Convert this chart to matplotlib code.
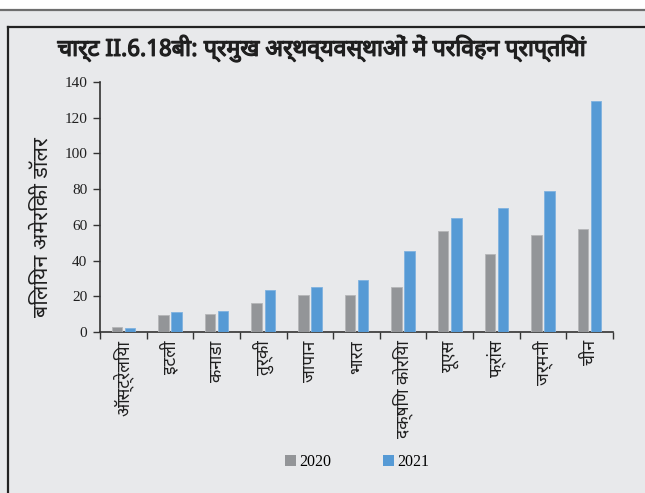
import matplotlib
matplotlib.use("Agg")
import matplotlib.pyplot as plt
import numpy as np
from matplotlib import font_manager as fm
from matplotlib import patheffects as pe
from matplotlib.ft2font import FT2Font
from matplotlib.patches import Rectangle
from matplotlib.lines import Line2D

# Data
countries = ["ऑस्ट्रेलिया", "इटली", "कनाडा", "तुर्की", "जापान", "भारत",
             "दक्षिण कोरिया", "यूएस", "फ्रांस", "जर्मनी", "चीन"]
values_2020 = [3.0, 9.5, 9.9, 16.1, 20.6, 20.6, 25.0, 56.6, 43.5, 54.2, 57.5]
values_2021 = [2.4, 11.0, 11.6, 23.7, 25.0, 29.1, 45.4, 63.7, 69.7, 79.2, 129.2]
series_labels = ["2020", "2021"]
title_text = "चार्ट II.6.18बी: प्रमुख अर्थव्यवस्थाओं में परिवहन प्राप्तियां"
ylabel_text = "बिलियन अमेरिकी डॉलर"
yticks = [0, 20, 40, 60, 80, 100, 120, 140]


def find_family(codepoint):
    found = []
    for f in fm.fontManager.ttflist:
        try:
            if codepoint in FT2Font(f.fname).get_charmap():
                found.append(f.name)
        except Exception:
            continue
    preferred = ["Noto Sans Devanagari", "Lohit Devanagari", "Mukta", "Hind",
                 "FreeSans", "Gargi", "Kalimati"]
    for p in preferred:
        if p in found:
            return p
    return found[0] if found else None


deva = find_family(0x0915)
sans_fams = ([deva] if deva else []) + ["DejaVu Sans"]
serif_fams = ["Liberation Serif", "DejaVu Serif"]

BG = "#E8E9EB"
GRAY = "#939598"
BLUE = "#569AD5"
INK = "#1f1f1f"

fig = plt.figure(figsize=(6.45, 4.93), dpi=100)
fig.patch.set_facecolor(BG)
W, H = 645, 493

# top white strip with rule
fig.patches.append(Rectangle((0, 1 - 9 / H), 1, 9 / H, transform=fig.transFigure,
                             facecolor="white", edgecolor="none", zorder=0))
fig.lines.append(Line2D([0, 1], [1 - 9.5 / H, 1 - 9.5 / H], transform=fig.transFigure,
                        color="#6e6e6e", lw=1.6))
# inner frame
fig.lines.append(Line2D([7.5 / W, 7.5 / W], [0, 1 - 27 / H], transform=fig.transFigure,
                        color="#222222", lw=1.6))
fig.lines.append(Line2D([7.5 / W, 1], [1 - 27 / H, 1 - 27 / H], transform=fig.transFigure,
                        color="#222222", lw=1.6))

ax = fig.add_axes([100 / W, 1 - 332 / H, 513 / W, 250 / H])
ax.set_facecolor(BG)

x = np.arange(len(countries))
bw = 0.225
off = 0.14
ax.bar(x - off, values_2020, bw, color=GRAY, edgecolor="#b5b6b8", linewidth=0.6,
       label=series_labels[0], zorder=3)
ax.bar(x + off, values_2021, bw, color=BLUE, edgecolor="#7fb2e0", linewidth=0.6,
       label=series_labels[1], zorder=3)

ax.set_xlim(-0.5, len(countries) - 0.5)
ax.set_ylim(0, 140)
ax.set_yticks(yticks)
ax.set_yticklabels([str(v) for v in yticks], family=serif_fams, fontsize=11, color=INK)

ax.set_xticks(np.arange(len(countries) + 1) - 0.5, minor=False)
ax.set_xticklabels([])
ax.set_xticks(x, minor=True)
xlabels = ax.set_xticklabels(countries, minor=True, rotation=90, family=sans_fams,
                             fontsize=12, color=INK, va="top")
ax.tick_params(axis="x", which="minor", length=0, pad=6)
ax.tick_params(axis="x", which="major", length=5, width=1, color="#333333", direction="out")
ax.tick_params(axis="y", length=5, width=1, color="#333333", direction="out", pad=4)

for s in ["top", "right"]:
    ax.spines[s].set_visible(False)
for s in ["left", "bottom"]:
    ax.spines[s].set_color("#333333")
    ax.spines[s].set_linewidth(1.2)

ylab = ax.set_ylabel(ylabel_text, family=sans_fams, fontsize=14, color=INK)
ax.yaxis.set_label_coords(-47 / 513, 0.418)

title = fig.text(0.5, 1 - 48 / H, title_text, ha="center", va="center", family=sans_fams,
                 fontsize=17, fontweight="bold", color=INK)
title.set_path_effects([pe.withStroke(linewidth=0.9, foreground=INK)])

handles = [Rectangle((0, 0), 1, 1, facecolor=GRAY, edgecolor="none"),
           Rectangle((0, 0), 1, 1, facecolor=BLUE, edgecolor="none")]
fig.legend(handles, series_labels, loc="center", bbox_to_anchor=(357 / W, 1 - 462 / H),
           ncol=2, frameon=False, handlelength=0.7, handleheight=0.7,
           handletextpad=0.2, columnspacing=3.2,
           prop={"family": serif_fams, "size": 11.5})

# size long texts to the room they have in the layout
r = fig.canvas.get_renderer()


def fit(texts, target, horizontal=True):
    for _ in range(3):
        fig.canvas.draw()
        sizes = [t.get_window_extent(r) for t in texts]
        longest = max(b.width if horizontal else b.height for b in sizes)
        scale = target / longest
        for t in texts:
            t.set_fontsize(t.get_fontsize() * scale)


fit([title], 530, True)
fit([ylab], 180, False)
fit(list(xlabels), 98, False)

fig.savefig("out.png", dpi=100, facecolor=fig.get_facecolor())
